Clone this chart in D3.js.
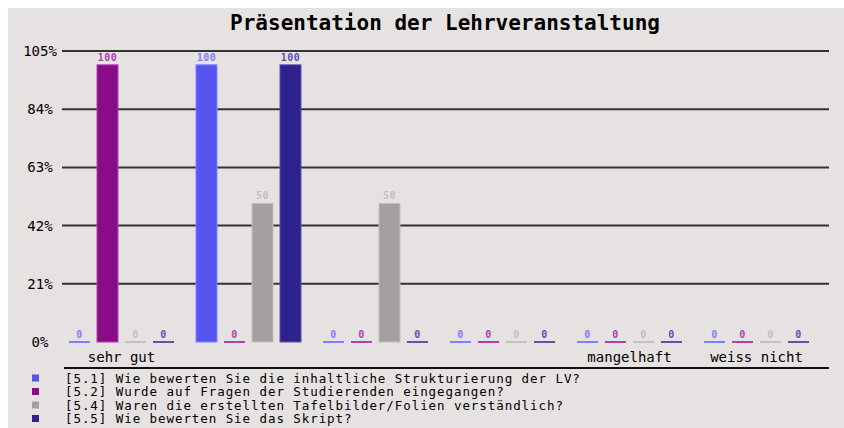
<!DOCTYPE html>
<html lang="de">
  <head>
    <meta charset="UTF-8" />
    <title>Präsentation der Lehrveranstaltung</title>
    <script src="https://d3js.org/d3.v7.min.js"></script>
    <style>
      body {
        margin: 0;
        background: #ffffff;
      }
      svg {
        display: block;
      }
      text {
        font-family: "DejaVu Sans Mono", "Liberation Mono", monospace;
        fill: #000;
      }
    </style>
  </head>
  <body>
    <svg id="chart"></svg>
  </body>
  <script>
    const width = 844;
    const height = 428;

    // categories (only some were labelled in the original)
    const groups = ["sehr gut", "", " ", "  ", "mangelhaft", "weiss nicht"];
    const series = [
      "[5.1] Wie bewerten Sie die inhaltliche Strukturierung der LV?",
      "[5.2] Wurde auf Fragen der Studierenden eingegangen?",
      "[5.4] Waren die erstellten Tafelbilder/Folien verständlich?",
      "[5.5] Wie bewerten Sie das Skript?",
    ];
    const values51 = [0, 100, 0, 0, 0, 0];
    const values52 = [100, 0, 0, 0, 0, 0];
    const values54 = [0, 50, 50, 0, 0, 0];
    const values55 = [0, 100, 0, 0, 0, 0];
    const yTicks = [0, 21, 42, 63, 84, 105];

    const colors = ["#5656ee", "#880c88", "#a4a09f", "#30228c"];
    const lightColors = ["#8080ff", "#b040b0", "#c4c0bf", "#6050b4"];

    const allValues = [values51, values52, values54, values55];
    const data = groups.map((g, i) => ({
      group: g,
      bars: series.map((s, j) => ({ idx: j, v: allValues[j][i] })),
    }));

    const svg = d3.select("#chart").attr("width", width).attr("height", height);

    svg
      .append("rect")
      .attr("x", 8)
      .attr("y", 8)
      .attr("width", width - 8)
      .attr("height", height - 8)
      .attr("fill", "#e6e2e2");

    svg
      .append("text")
      .attr("x", 445)
      .attr("y", 30)
      .attr("text-anchor", "middle")
      .style("font-size", "21px")
      .style("font-weight", "bold")
      .text("Präsentation der Lehrveranstaltung");

    const y = d3.scaleLinear().domain([0, 105]).range([342, 51]);

    const x0 = d3
      .scaleBand()
      .domain(groups)
      .range([58, 820])
      .paddingInner(22 / 127)
      .paddingOuter(11 / 127);

    const x1 = d3
      .scaleBand()
      .domain(d3.range(series.length))
      .range([0, x0.bandwidth()])
      .paddingInner(0.25);

    // grid lines (no line at 0%)
    svg
      .append("g")
      .selectAll("line")
      .data(yTicks.filter((t) => t > 0))
      .enter()
      .append("line")
      .attr("x1", 62)
      .attr("x2", 829)
      .attr("y1", (d) => y(d))
      .attr("y2", (d) => y(d))
      .attr("stroke", "#333")
      .attr("stroke-width", 2);

    svg
      .append("g")
      .selectAll("text")
      .data(yTicks)
      .enter()
      .append("text")
      .attr("x", 40)
      .attr("y", (d) => y(d) + 5)
      .attr("text-anchor", "middle")
      .style("font-size", "14px")
      .text((d) => d + "%");

    const group = svg
      .append("g")
      .selectAll("g")
      .data(data)
      .enter()
      .append("g")
      .attr("transform", (d) => `translate(${x0(d.group)},0)`);

    group
      .selectAll("rect")
      .data((d) => d.bars)
      .enter()
      .append("rect")
      .attr("x", (d) => x1(d.idx))
      .attr("width", x1.bandwidth())
      .attr("y", (d) => (d.v > 0 ? y(d.v) : y(0) - 1))
      .attr("height", (d) => (d.v > 0 ? y(0) - y(d.v) : 2))
      .attr("fill", (d) => (d.v > 0 ? colors[d.idx] : lightColors[d.idx]))
      .attr("stroke", (d) => (d.v > 0 ? lightColors[d.idx] : "none"))
      .attr("stroke-width", 1);

    group
      .selectAll("text")
      .data((d) => d.bars)
      .enter()
      .append("text")
      .attr("x", (d) => x1(d.idx) + x1.bandwidth() / 2)
      .attr("y", (d) => y(d.v) - 4)
      .attr("text-anchor", "middle")
      .style("font-size", "10px")
      .style("font-weight", "bold")
      .style("letter-spacing", "0.5px")
      .style("fill", (d) => lightColors[d.idx])
      .text((d) => d.v);

    group
      .append("text")
      .attr("x", x0.bandwidth() / 2)
      .attr("y", 362)
      .attr("text-anchor", "middle")
      .style("font-size", "14px")
      .text((d) => d.group.trim());

    svg
      .append("line")
      .attr("x1", 64)
      .attr("x2", 829)
      .attr("y1", 368)
      .attr("y2", 368)
      .attr("stroke", "#111")
      .attr("stroke-width", 2);

    const legend = svg
      .append("g")
      .selectAll("g")
      .data(series)
      .enter()
      .append("g")
      .attr("transform", (d, i) => `translate(0,${378 + i * 13.5})`);

    legend
      .append("rect")
      .attr("x", 32)
      .attr("y", -3.5)
      .attr("width", 7)
      .attr("height", 7)
      .attr("fill", (d, i) => colors[i]);

    legend
      .append("text")
      .attr("x", 65)
      .attr("y", 4.5)
      .style("font-size", "12.5px")
      .style("letter-spacing", "0.93px")
      .text((d) => d);
  </script>
</html>
